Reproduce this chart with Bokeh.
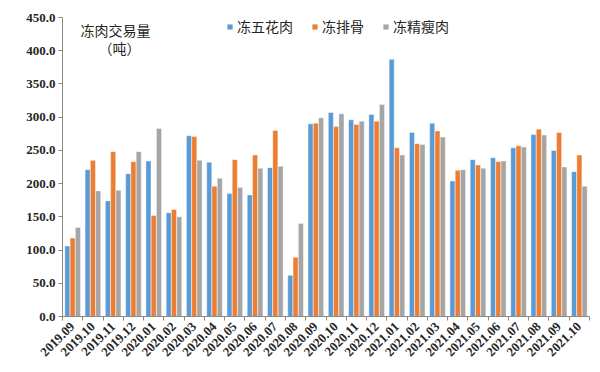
import numpy as np
from bokeh.plotting import figure
from bokeh.models import (ColumnDataSource, FixedTicker, NumeralTickFormatter, CustomJSTickFormatter,
                          Legend, LegendItem, Label, Range1d)
from bokeh.transform import dodge
from bokeh.embed import file_html
from bokeh.resources import INLINE

months = ["2019.09", "2019.10", "2019.11", "2019.12", "2020.01", "2020.02", "2020.03", "2020.04",
          "2020.05", "2020.06", "2020.07", "2020.08", "2020.09", "2020.10", "2020.11", "2020.12",
          "2021.01", "2021.02", "2021.03", "2021.04", "2021.05", "2021.06", "2021.07", "2021.08",
          "2021.09", "2021.10"]
pork_belly = [106, 221, 174, 215, 234, 156, 272, 232, 185, 183, 224, 62, 290, 307, 296, 304,
              387, 277, 291, 204, 236, 239, 254, 274, 250, 218]
ribs = [118, 235, 248, 233, 152, 161, 271, 196, 236, 243, 280, 89, 291, 286, 289, 294,
        254, 260, 279, 220, 228, 233, 257, 282, 277, 243]
lean = [134, 189, 190, 248, 283, 150, 235, 208, 194, 223, 226, 140, 299, 305, 294, 319,
        243, 259, 270, 221, 223, 234, 255, 273, 225, 196]
series_names = ["冻五花肉", "冻排骨", "冻精瘦肉"]
colors = ["#5B9BD5", "#ED7D31", "#A5A5A5"]
y_ticks = [0, 50, 100, 150, 200, 250, 300, 350, 400, 450]

idx = np.arange(len(months)) + 0.5
src = ColumnDataSource(dict(x=idx, a=pork_belly, b=ribs, c=lean))

p = figure(width=592, height=364, output_backend="svg", toolbar_location=None,
           x_range=Range1d(0, len(months)), y_range=Range1d(0, 450),
           min_border_left=62, min_border_right=3, min_border_top=17, min_border_bottom=48)
p.outline_line_color = None
p.xgrid.visible = False
p.ygrid.visible = False
p.background_fill_color = "white"
p.border_fill_color = "white"

renderers = []
for col, off, c in zip(["a", "b", "c"], [-0.26, 0.0, 0.26], colors):
    r = p.vbar(x=dodge("x", off), top=col, width=0.25, source=src, fill_color=c,
               line_color="white", line_width=0.4)
    renderers.append(r)

# y axis
p.yaxis.ticker = FixedTicker(ticks=y_ticks)
p.yaxis.formatter = NumeralTickFormatter(format="0.0")
p.yaxis.major_label_text_font = "Liberation Serif"
p.yaxis.major_label_text_font_style = "bold"
p.yaxis.major_label_text_font_size = "13px"
p.yaxis.major_label_text_color = "#262626"
p.yaxis.axis_line_color = "#898989"
p.yaxis.major_tick_line_color = "#898989"
p.yaxis.major_tick_out = 4
p.yaxis.major_tick_in = 0
p.yaxis.minor_tick_line_color = None
p.yaxis.major_label_standoff = 3

# x axis
p.xaxis.ticker = FixedTicker(ticks=list(idx), minor_ticks=list(range(len(months) + 1)))
p.xaxis.formatter = CustomJSTickFormatter(args=dict(labels=months),
                                          code="return labels[Math.floor(tick)];")
p.xaxis.major_label_orientation = np.pi / 4
p.xaxis.major_label_text_font = "Liberation Serif"
p.xaxis.major_label_text_font_style = "bold"
p.xaxis.major_label_text_font_size = "13px"
p.xaxis.major_label_text_color = "#262626"
p.xaxis.axis_line_color = "#898989"
p.xaxis.major_tick_line_color = None
p.xaxis.minor_tick_line_color = "#898989"
p.xaxis.minor_tick_out = 4
p.xaxis.minor_tick_in = 0
p.xaxis.major_label_standoff = 2

legend = Legend(items=[LegendItem(label=n, renderers=[r]) for n, r in zip(series_names, renderers)],
                orientation="horizontal", location=(164, 280),
                background_fill_alpha=0, border_line_color=None,
                glyph_width=7, glyph_height=7, label_standoff=4, spacing=18,
                padding=0, margin=0,
                label_text_font="Noto Sans CJK SC", label_text_font_size="14px",
                label_text_color="#262626", label_height=14)
p.add_layout(legend)

p.add_layout(Label(x=18, y=287, x_units="screen", y_units="screen", text="冻肉交易量",
                   text_font="Noto Sans CJK SC", text_font_size="14px", text_color="#262626",
                   text_baseline="middle"))
p.add_layout(Label(x=36, y=269, x_units="screen", y_units="screen", text="（吨）",
                   text_font="Noto Sans CJK SC", text_font_size="14px", text_color="#262626",
                   text_baseline="middle"))

open("out.html", "w").write(file_html(p, INLINE))
